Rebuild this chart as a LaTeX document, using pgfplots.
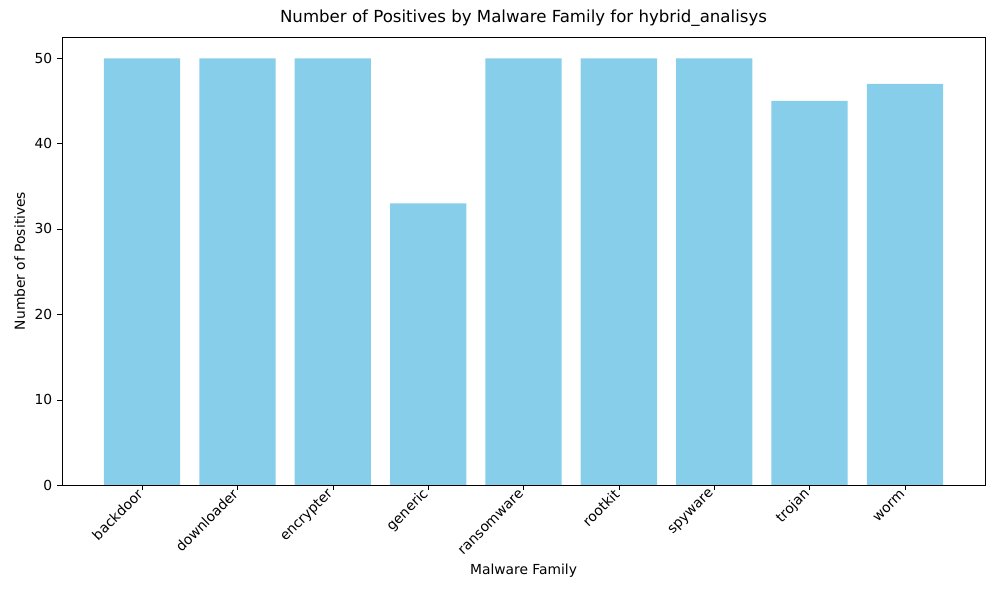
\documentclass[border=0pt]{standalone}
\usepackage{pgfplots}
\pgfplotsset{compat=1.18}
\usepackage{fontspec}
\setmainfont{DejaVu Sans}
\definecolor{skyblue}{HTML}{87CEEB}
\begin{document}
\begin{tikzpicture}[x=1pt,y=1pt]
\useasboundingbox (0,0) rectangle (722.7,433.6);
\begin{axis}[at={(44.8pt,83.1pt)}, anchor=south west, scale only axis,
  width=667.1pt, height=323.8pt,
  xmin=-0.84, xmax=8.84, ymin=0, ymax=52.5,
  xtick=data,
  xticklabels={backdoor,downloader,encrypter,generic,ransomware,rootkit,spyware,trojan,worm},
  xticklabel style={rotate=45, anchor=east, font=\fontsize{10}{12}\selectfont, inner sep=2pt},
  yticklabel style={font=\fontsize{10}{12}\selectfont},
  ytick={0,10,20,30,40,50},
  tick align=outside, tick style={black}, major tick length=3.5pt,
  xtick pos=bottom, ytick pos=left,
  /pgf/number format/assume math mode=true,
  title={Number of Positives by Malware Family for hybrid\_analisys},
  title style={font=\fontsize{12}{14}\selectfont, yshift=-2pt},
  xlabel={Malware Family}, ylabel={Number of Positives},
  label style={font=\fontsize{10}{12}\selectfont},
  ]
\addplot[ybar, bar width=0.8, bar shift=0pt, fill=skyblue, draw=none]
 coordinates {(0,50)(1,50)(2,50)(3,33)(4,50)(5,50)(6,50)(7,45)(8,47)};
\end{axis}
\end{tikzpicture}
\end{document}
